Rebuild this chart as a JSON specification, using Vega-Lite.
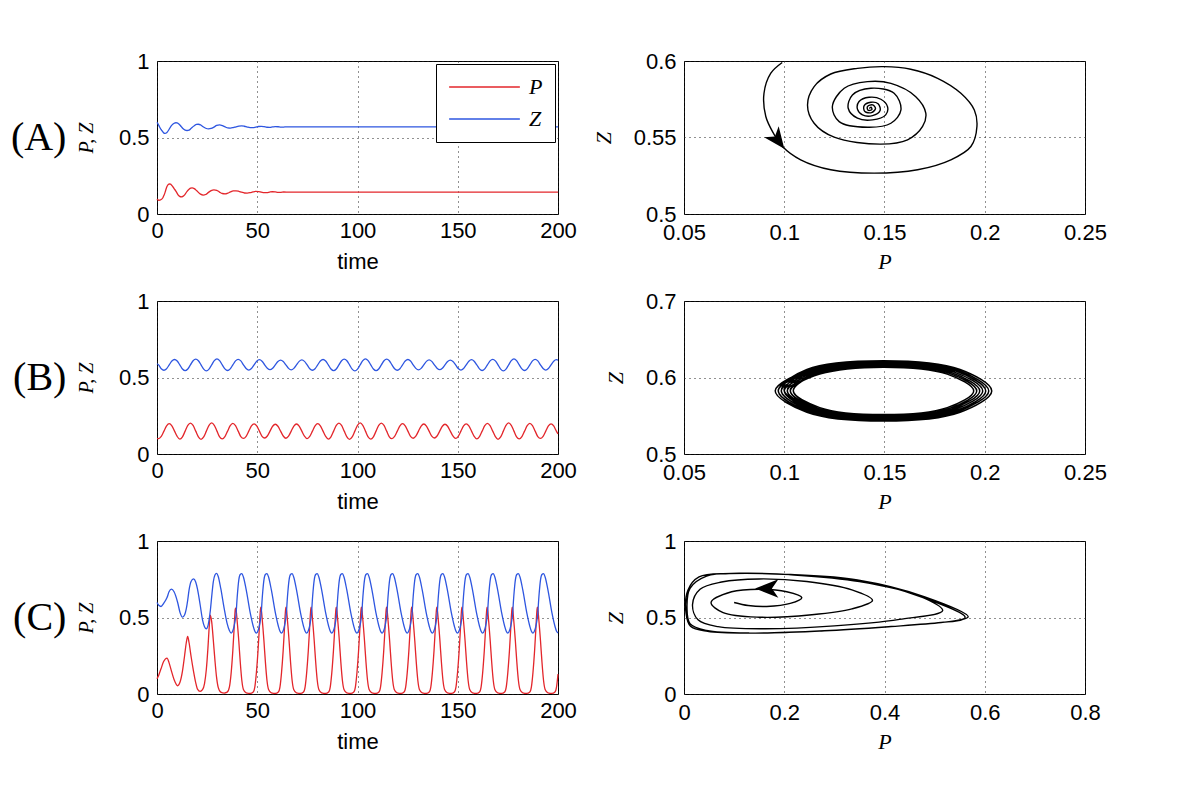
{
"$schema": "https://vega.github.io/schema/vega-lite/v6.json",
"background": "white",
"padding": {"left": 10, "top": 49, "right": 5, "bottom": 5},
"config": {
 "font": "Liberation Sans",
 "view": {"stroke": "black", "strokeWidth": 1},
 "axis": {"labelFont": "Liberation Sans", "labelFontSize": 22, "labelColor": "black", "domain": false, "ticks": false, "grid": true, "gridColor": "#222", "gridDash": [1, 4], "gridWidth": 1, "labelPadding": 8, "titleFont": "Liberation Sans", "titleFontSize": 22, "titleFontWeight": "normal", "titleColor": "black", "titlePadding": 12, "labelFlush": false, "labelOverlap": false},
 "axisX": {"labelPadding": 6, "titlePadding": 10}
},
"datasets": {
 "arrowA": [{"P": 0.0968, "Z": 0.5482}],
 "arrowC": [{"P": 0.165, "Z": 0.6895}],
 "A": [
  {"t":0,"P":0.099,"Z":0.599},{"t":0.35,"P":0.0933,"Z":0.592},{"t":0.9,"P":0.0899,"Z":0.5789},{"t":1.5,"P":0.0908,"Z":0.5637},{"t":2.0,"P":0.0946,"Z":0.5528},{"t":2.5,"P":0.0991,"Z":0.5441},{"t":3.0,"P":0.1082,"Z":0.5354},{"t":3.5,"P":0.1232,"Z":0.5289},{"t":4.1,"P":0.1448,"Z":0.5267},{"t":4.6,"P":0.1665,"Z":0.5289},{"t":5.1,"P":0.1831,"Z":0.5354},{"t":5.6,"P":0.1931,"Z":0.5441},{"t":6.2,"P":0.1961,"Z":0.5572},{"t":6.7,"P":0.1948,"Z":0.568},{"t":7.3,"P":0.1881,"Z":0.5789},{"t":8.0,"P":0.1765,"Z":0.5887},{"t":8.7,"P":0.1631,"Z":0.5946},{"t":9.4,"P":0.1498,"Z":0.5963},{"t":10.0,"P":0.1365,"Z":0.5952},{"t":10.6,"P":0.1232,"Z":0.5915},{"t":11.3,"P":0.1149,"Z":0.5833},{"t":12.1,"P":0.1116,"Z":0.5713},{"t":12.9,"P":0.1149,"Z":0.5593},{"t":13.8,"P":0.1249,"Z":0.5502},{"t":15.0,"P":0.1482,"Z":0.5457},{"t":16.0,"P":0.1615,"Z":0.5485},{"t":16.8,"P":0.169,"Z":0.5572},{"t":17.5,"P":0.1706,"Z":0.5659},{"t":18.6,"P":0.1656,"Z":0.5767},{"t":19.7,"P":0.1532,"Z":0.5854},{"t":20.6,"P":0.1415,"Z":0.5865},{"t":21.7,"P":0.1299,"Z":0.5822},{"t":23.0,"P":0.124,"Z":0.5702},{"t":24.3,"P":0.1274,"Z":0.5604},{"t":25.7,"P":0.1415,"Z":0.5567},{"t":27.0,"P":0.1532,"Z":0.5593},{"t":28.4,"P":0.1582,"Z":0.568},{"t":29.8,"P":0.1548,"Z":0.5789},{"t":31.2,"P":0.1432,"Z":0.5822},{"t":32.6,"P":0.134,"Z":0.5778},{"t":34.0,"P":0.1319,"Z":0.5691},{"t":35.3,"P":0.1365,"Z":0.5626},{"t":36.6,"P":0.144,"Z":0.5615},{"t":38.0,"P":0.1506,"Z":0.5648},{"t":39.4,"P":0.1515,"Z":0.5702},{"t":40.8,"P":0.1482,"Z":0.575},{"t":42.2,"P":0.1423,"Z":0.5763},{"t":43.6,"P":0.1373,"Z":0.5735},{"t":45.0,"P":0.1365,"Z":0.5685},{"t":46.4,"P":0.139,"Z":0.5648},{"t":47.8,"P":0.144,"Z":0.5643},{"t":49.2,"P":0.1478,"Z":0.5676},{"t":50.6,"P":0.1468,"Z":0.572},{"t":52.0,"P":0.1432,"Z":0.573},{"t":53.4,"P":0.1398,"Z":0.5707},{"t":54.8,"P":0.1402,"Z":0.567},{"t":56.2,"P":0.1435,"Z":0.5663},{"t":57.6,"P":0.1455,"Z":0.5689},{"t":59.0,"P":0.1441,"Z":0.5713},{"t":60.4,"P":0.1415,"Z":0.5702},{"t":61.8,"P":0.1418,"Z":0.5678},{"t":63.2,"P":0.1437,"Z":0.5683},{"t":64.6,"P":0.1433,"Z":0.5698},{"t":66.0,"P":0.1425,"Z":0.5691},{"t":200,"P":0.1424,"Z":0.569}
 ],
 "B": [
  {"t":0,"P":0.101,"Z":0.59},
  {"t":0.81,"P":0.1,"Z":0.5825},{"t":2.13,"P":0.1145,"Z":0.5576},{"t":3.46,"P":0.1495,"Z":0.5473},{"t":4.78,"P":0.1845,"Z":0.5576},{"t":6.1,"P":0.199,"Z":0.5825},{"t":7.42,"P":0.1845,"Z":0.6074},{"t":8.75,"P":0.1495,"Z":0.6177},{"t":10.07,"P":0.1145,"Z":0.6074},
  {"t":11.39,"P":0.097,"Z":0.5825},{"t":12.71,"P":0.1124,"Z":0.5556},{"t":14.04,"P":0.1495,"Z":0.5445},{"t":15.36,"P":0.1866,"Z":0.5556},{"t":16.68,"P":0.202,"Z":0.5825},{"t":18.0,"P":0.1866,"Z":0.6094},{"t":19.33,"P":0.1495,"Z":0.6205},{"t":20.65,"P":0.1124,"Z":0.6094},
  {"t":21.97,"P":0.0955,"Z":0.5825},{"t":23.29,"P":0.1113,"Z":0.5546},{"t":24.62,"P":0.1495,"Z":0.5431},{"t":25.94,"P":0.1877,"Z":0.5546},{"t":27.26,"P":0.2035,"Z":0.5825},{"t":28.58,"P":0.1877,"Z":0.6104},{"t":29.91,"P":0.1495,"Z":0.6219},{"t":31.23,"P":0.1113,"Z":0.6104},
  {"t":32.55,"P":0.0985,"Z":0.5825},{"t":33.87,"P":0.1134,"Z":0.5566},{"t":35.2,"P":0.1495,"Z":0.5459},{"t":36.52,"P":0.1856,"Z":0.5566},{"t":37.84,"P":0.2005,"Z":0.5825},{"t":39.16,"P":0.1856,"Z":0.6084},{"t":40.49,"P":0.1495,"Z":0.6191},{"t":41.81,"P":0.1134,"Z":0.6084},
  {"t":43.13,"P":0.1015,"Z":0.5825},{"t":44.45,"P":0.1156,"Z":0.5586},{"t":45.78,"P":0.1495,"Z":0.5487},{"t":47.1,"P":0.1834,"Z":0.5586},{"t":48.42,"P":0.1975,"Z":0.5825},{"t":49.74,"P":0.1834,"Z":0.6064},{"t":51.07,"P":0.1495,"Z":0.6163},{"t":52.39,"P":0.1156,"Z":0.6064},
  {"t":53.71,"P":0.1045,"Z":0.5825},{"t":55.03,"P":0.1177,"Z":0.5606},{"t":56.36,"P":0.1495,"Z":0.5515},{"t":57.68,"P":0.1813,"Z":0.5606},{"t":59.0,"P":0.1945,"Z":0.5825},{"t":60.32,"P":0.1813,"Z":0.6044},{"t":61.65,"P":0.1495,"Z":0.6135},{"t":62.97,"P":0.1177,"Z":0.6044},
  {"t":64.29,"P":0.103,"Z":0.5825},{"t":65.61,"P":0.1166,"Z":0.5596},{"t":66.94,"P":0.1495,"Z":0.5501},{"t":68.26,"P":0.1824,"Z":0.5596},{"t":69.58,"P":0.196,"Z":0.5825},{"t":70.9,"P":0.1824,"Z":0.6054},{"t":72.23,"P":0.1495,"Z":0.6149},{"t":73.55,"P":0.1166,"Z":0.6054},
  {"t":74.87,"P":0.1,"Z":0.5825},{"t":76.19,"P":0.1145,"Z":0.5576},{"t":77.52,"P":0.1495,"Z":0.5473},{"t":78.84,"P":0.1845,"Z":0.5576},{"t":80.16,"P":0.199,"Z":0.5825},{"t":81.48,"P":0.1845,"Z":0.6074},{"t":82.81,"P":0.1495,"Z":0.6177},{"t":84.13,"P":0.1145,"Z":0.6074},
  {"t":85.45,"P":0.097,"Z":0.5825},{"t":86.77,"P":0.1124,"Z":0.5556},{"t":88.1,"P":0.1495,"Z":0.5445},{"t":89.42,"P":0.1866,"Z":0.5556},{"t":90.74,"P":0.202,"Z":0.5825},{"t":92.06,"P":0.1866,"Z":0.6094},{"t":93.39,"P":0.1495,"Z":0.6205},{"t":94.71,"P":0.1124,"Z":0.6094},
  {"t":96.03,"P":0.0955,"Z":0.5825},{"t":97.35,"P":0.1113,"Z":0.5546},{"t":98.68,"P":0.1495,"Z":0.5431},{"t":100.0,"P":0.1877,"Z":0.5546},{"t":101.32,"P":0.2035,"Z":0.5825},{"t":102.64,"P":0.1877,"Z":0.6104},{"t":103.97,"P":0.1495,"Z":0.6219},{"t":105.29,"P":0.1113,"Z":0.6104},
  {"t":106.61,"P":0.097,"Z":0.5825},{"t":107.93,"P":0.1124,"Z":0.5556},{"t":109.26,"P":0.1495,"Z":0.5445},{"t":110.58,"P":0.1866,"Z":0.5556},{"t":111.9,"P":0.202,"Z":0.5825},{"t":113.22,"P":0.1866,"Z":0.6094},{"t":114.55,"P":0.1495,"Z":0.6205},{"t":115.87,"P":0.1124,"Z":0.6094},
  {"t":117.19,"P":0.1,"Z":0.5825},{"t":118.51,"P":0.1145,"Z":0.5576},{"t":119.84,"P":0.1495,"Z":0.5473},{"t":121.16,"P":0.1845,"Z":0.5576},{"t":122.48,"P":0.199,"Z":0.5825},{"t":123.8,"P":0.1845,"Z":0.6074},{"t":125.13,"P":0.1495,"Z":0.6177},{"t":126.45,"P":0.1145,"Z":0.6074},
  {"t":127.77,"P":0.103,"Z":0.5825},{"t":129.09,"P":0.1166,"Z":0.5596},{"t":130.42,"P":0.1495,"Z":0.5501},{"t":131.74,"P":0.1824,"Z":0.5596},{"t":133.06,"P":0.196,"Z":0.5825},{"t":134.38,"P":0.1824,"Z":0.6054},{"t":135.71,"P":0.1495,"Z":0.6149},{"t":137.03,"P":0.1166,"Z":0.6054},
  {"t":138.35,"P":0.1045,"Z":0.5825},{"t":139.67,"P":0.1177,"Z":0.5606},{"t":141.0,"P":0.1495,"Z":0.5515},{"t":142.32,"P":0.1813,"Z":0.5606},{"t":143.64,"P":0.1945,"Z":0.5825},{"t":144.96,"P":0.1813,"Z":0.6044},{"t":146.29,"P":0.1495,"Z":0.6135},{"t":147.61,"P":0.1177,"Z":0.6044},
  {"t":148.93,"P":0.1015,"Z":0.5825},{"t":150.25,"P":0.1156,"Z":0.5586},{"t":151.58,"P":0.1495,"Z":0.5487},{"t":152.9,"P":0.1834,"Z":0.5586},{"t":154.22,"P":0.1975,"Z":0.5825},{"t":155.54,"P":0.1834,"Z":0.6064},{"t":156.87,"P":0.1495,"Z":0.6163},{"t":158.19,"P":0.1156,"Z":0.6064},
  {"t":159.51,"P":0.0985,"Z":0.5825},{"t":160.83,"P":0.1134,"Z":0.5566},{"t":162.16,"P":0.1495,"Z":0.5459},{"t":163.48,"P":0.1856,"Z":0.5566},{"t":164.8,"P":0.2005,"Z":0.5825},{"t":166.12,"P":0.1856,"Z":0.6084},{"t":167.45,"P":0.1495,"Z":0.6191},{"t":168.77,"P":0.1134,"Z":0.6084},
  {"t":170.09,"P":0.0955,"Z":0.5825},{"t":171.41,"P":0.1113,"Z":0.5546},{"t":172.74,"P":0.1495,"Z":0.5431},{"t":174.06,"P":0.1877,"Z":0.5546},{"t":175.38,"P":0.2035,"Z":0.5825},{"t":176.7,"P":0.1877,"Z":0.6104},{"t":178.03,"P":0.1495,"Z":0.6219},{"t":179.35,"P":0.1113,"Z":0.6104},
  {"t":180.67,"P":0.0985,"Z":0.5825},{"t":181.99,"P":0.1134,"Z":0.5566},{"t":183.32,"P":0.1495,"Z":0.5459},{"t":184.64,"P":0.1856,"Z":0.5566},{"t":185.96,"P":0.2005,"Z":0.5825},{"t":187.28,"P":0.1856,"Z":0.6084},{"t":188.61,"P":0.1495,"Z":0.6191},{"t":189.93,"P":0.1134,"Z":0.6084},
  {"t":191.25,"P":0.1015,"Z":0.5825},{"t":192.57,"P":0.1156,"Z":0.5586},{"t":193.9,"P":0.1495,"Z":0.5487},{"t":195.22,"P":0.1834,"Z":0.5586},{"t":196.54,"P":0.1975,"Z":0.5825},{"t":197.86,"P":0.1834,"Z":0.6064},{"t":199.19,"P":0.1495,"Z":0.6163},{"t":200,"P":0.1317,"Z":0.6139}
 ],
 "C": [
  {"t":0,"P":0.1,"Z":0.598},{"t":1.0,"P":0.128,"Z":0.578},{"t":2.0,"P":0.165,"Z":0.572},{"t":3.3,"P":0.212,"Z":0.592},{"t":5.0,"P":0.235,"Z":0.63},{"t":6.0,"P":0.205,"Z":0.668},{"t":7.2,"P":0.15,"Z":0.685},{"t":8.5,"P":0.095,"Z":0.668},{"t":10.3,"P":0.054,"Z":0.598},{"t":11.5,"P":0.078,"Z":0.532},{"t":12.7,"P":0.15,"Z":0.502},{"t":13.8,"P":0.255,"Z":0.518},{"t":14.6,"P":0.335,"Z":0.556},{"t":15.3,"P":0.376,"Z":0.612},{"t":16.0,"P":0.335,"Z":0.68},{"t":17.0,"P":0.245,"Z":0.735},{"t":18.2,"P":0.15,"Z":0.752},{"t":19.3,"P":0.075,"Z":0.732},{"t":20.2,"P":0.032,"Z":0.685},{"t":21.5,"P":0.017,"Z":0.585},{"t":22.7,"P":0.028,"Z":0.485},{"t":23.7,"P":0.068,"Z":0.44},{"t":24.6,"P":0.16,"Z":0.426},{"t":25.4,"P":0.3,"Z":0.445},{"t":26.0,"P":0.43,"Z":0.488},{"t":26.6,"P":0.516,"Z":0.545},{"t":27.3,"P":0.47,"Z":0.64},{"t":28.1,"P":0.35,"Z":0.735},{"t":28.9,"P":0.22,"Z":0.778},{"t":29.7,"P":0.11,"Z":0.789},{"t":30.5,"P":0.045,"Z":0.77},{"t":31.8,"P":0.012,"Z":0.69},{"t":33.5,"P":0.006,"Z":0.56},{"t":35.0,"P":0.012,"Z":0.46},{"t":36.1,"P":0.045,"Z":0.415},{"t":37.0,"P":0.14,"Z":0.398},{"t":37.8,"P":0.28,"Z":0.413},{"t":38.4,"P":0.413,"Z":0.441},{"t":38.8,"P":0.513,"Z":0.467},{"t":39.05,"P":0.555,"Z":0.487},
  {"t":39.3,"P":0.561,"Z":0.503},{"t":40.0,"P":0.474,"Z":0.634},{"t":40.8,"P":0.346,"Z":0.746},{"t":41.5,"P":0.213,"Z":0.781},{"t":42.3,"P":0.09,"Z":0.787},{"t":43.1,"P":0.03,"Z":0.765},{"t":44.5,"P":0.008,"Z":0.68},{"t":46.5,"P":0.004,"Z":0.53},{"t":48.0,"P":0.013,"Z":0.443},{"t":48.8,"P":0.047,"Z":0.41},{"t":49.57,"P":0.14,"Z":0.398},{"t":50.37,"P":0.28,"Z":0.413},{"t":50.97,"P":0.413,"Z":0.441},{"t":51.37,"P":0.513,"Z":0.467},{"t":51.62,"P":0.555,"Z":0.487},
  {"t":51.84,"P":0.567,"Z":0.505},{"t":52.54,"P":0.479,"Z":0.637},{"t":53.34,"P":0.346,"Z":0.746},{"t":54.04,"P":0.213,"Z":0.781},{"t":54.84,"P":0.09,"Z":0.787},{"t":55.64,"P":0.03,"Z":0.765},{"t":57.04,"P":0.008,"Z":0.68},{"t":59.04,"P":0.004,"Z":0.53},{"t":60.54,"P":0.013,"Z":0.443},{"t":61.34,"P":0.047,"Z":0.41},{"t":62.11,"P":0.14,"Z":0.398},{"t":62.91,"P":0.28,"Z":0.413},{"t":63.51,"P":0.413,"Z":0.441},{"t":63.91,"P":0.513,"Z":0.467},{"t":64.16,"P":0.555,"Z":0.487},
  {"t":64.38,"P":0.567,"Z":0.505},{"t":65.08,"P":0.479,"Z":0.637},{"t":65.88,"P":0.346,"Z":0.746},{"t":66.58,"P":0.213,"Z":0.781},{"t":67.38,"P":0.09,"Z":0.787},{"t":68.18,"P":0.03,"Z":0.765},{"t":69.58,"P":0.008,"Z":0.68},{"t":71.58,"P":0.004,"Z":0.53},{"t":73.08,"P":0.013,"Z":0.443},{"t":73.88,"P":0.047,"Z":0.41},{"t":74.65,"P":0.14,"Z":0.398},{"t":75.45,"P":0.28,"Z":0.413},{"t":76.05,"P":0.413,"Z":0.441},{"t":76.45,"P":0.513,"Z":0.467},{"t":76.7,"P":0.555,"Z":0.487},
  {"t":76.92,"P":0.567,"Z":0.505},{"t":77.62,"P":0.479,"Z":0.637},{"t":78.42,"P":0.346,"Z":0.746},{"t":79.12,"P":0.213,"Z":0.781},{"t":79.92,"P":0.09,"Z":0.787},{"t":80.72,"P":0.03,"Z":0.765},{"t":82.12,"P":0.008,"Z":0.68},{"t":84.12,"P":0.004,"Z":0.53},{"t":85.62,"P":0.013,"Z":0.443},{"t":86.42,"P":0.047,"Z":0.41},{"t":87.19,"P":0.14,"Z":0.398},{"t":87.99,"P":0.28,"Z":0.413},{"t":88.59,"P":0.413,"Z":0.441},{"t":88.99,"P":0.513,"Z":0.467},{"t":89.24,"P":0.555,"Z":0.487},
  {"t":89.46,"P":0.567,"Z":0.505},{"t":90.16,"P":0.479,"Z":0.637},{"t":90.96,"P":0.346,"Z":0.746},{"t":91.66,"P":0.213,"Z":0.781},{"t":92.46,"P":0.09,"Z":0.787},{"t":93.26,"P":0.03,"Z":0.765},{"t":94.66,"P":0.008,"Z":0.68},{"t":96.66,"P":0.004,"Z":0.53},{"t":98.16,"P":0.013,"Z":0.443},{"t":98.96,"P":0.047,"Z":0.41},{"t":99.73,"P":0.14,"Z":0.398},{"t":100.53,"P":0.28,"Z":0.413},{"t":101.13,"P":0.413,"Z":0.441},{"t":101.53,"P":0.513,"Z":0.467},{"t":101.78,"P":0.555,"Z":0.487},
  {"t":102.0,"P":0.567,"Z":0.505},{"t":102.7,"P":0.479,"Z":0.637},{"t":103.5,"P":0.346,"Z":0.746},{"t":104.2,"P":0.213,"Z":0.781},{"t":105.0,"P":0.09,"Z":0.787},{"t":105.8,"P":0.03,"Z":0.765},{"t":107.2,"P":0.008,"Z":0.68},{"t":109.2,"P":0.004,"Z":0.53},{"t":110.7,"P":0.013,"Z":0.443},{"t":111.5,"P":0.047,"Z":0.41},{"t":112.27,"P":0.14,"Z":0.398},{"t":113.07,"P":0.28,"Z":0.413},{"t":113.67,"P":0.413,"Z":0.441},{"t":114.07,"P":0.513,"Z":0.467},{"t":114.32,"P":0.555,"Z":0.487},
  {"t":114.54,"P":0.567,"Z":0.505},{"t":115.24,"P":0.479,"Z":0.637},{"t":116.04,"P":0.346,"Z":0.746},{"t":116.74,"P":0.213,"Z":0.781},{"t":117.54,"P":0.09,"Z":0.787},{"t":118.34,"P":0.03,"Z":0.765},{"t":119.74,"P":0.008,"Z":0.68},{"t":121.74,"P":0.004,"Z":0.53},{"t":123.24,"P":0.013,"Z":0.443},{"t":124.04,"P":0.047,"Z":0.41},{"t":124.81,"P":0.14,"Z":0.398},{"t":125.61,"P":0.28,"Z":0.413},{"t":126.21,"P":0.413,"Z":0.441},{"t":126.61,"P":0.513,"Z":0.467},{"t":126.86,"P":0.555,"Z":0.487},
  {"t":127.08,"P":0.567,"Z":0.505},{"t":127.78,"P":0.479,"Z":0.637},{"t":128.58,"P":0.346,"Z":0.746},{"t":129.28,"P":0.213,"Z":0.781},{"t":130.08,"P":0.09,"Z":0.787},{"t":130.88,"P":0.03,"Z":0.765},{"t":132.28,"P":0.008,"Z":0.68},{"t":134.28,"P":0.004,"Z":0.53},{"t":135.78,"P":0.013,"Z":0.443},{"t":136.58,"P":0.047,"Z":0.41},{"t":137.35,"P":0.14,"Z":0.398},{"t":138.15,"P":0.28,"Z":0.413},{"t":138.75,"P":0.413,"Z":0.441},{"t":139.15,"P":0.513,"Z":0.467},{"t":139.4,"P":0.555,"Z":0.487},
  {"t":139.62,"P":0.567,"Z":0.505},{"t":140.32,"P":0.479,"Z":0.637},{"t":141.12,"P":0.346,"Z":0.746},{"t":141.82,"P":0.213,"Z":0.781},{"t":142.62,"P":0.09,"Z":0.787},{"t":143.42,"P":0.03,"Z":0.765},{"t":144.82,"P":0.008,"Z":0.68},{"t":146.82,"P":0.004,"Z":0.53},{"t":148.32,"P":0.013,"Z":0.443},{"t":149.12,"P":0.047,"Z":0.41},{"t":149.89,"P":0.14,"Z":0.398},{"t":150.69,"P":0.28,"Z":0.413},{"t":151.29,"P":0.413,"Z":0.441},{"t":151.69,"P":0.513,"Z":0.467},{"t":151.94,"P":0.555,"Z":0.487},
  {"t":152.16,"P":0.567,"Z":0.505},{"t":152.86,"P":0.479,"Z":0.637},{"t":153.66,"P":0.346,"Z":0.746},{"t":154.36,"P":0.213,"Z":0.781},{"t":155.16,"P":0.09,"Z":0.787},{"t":155.96,"P":0.03,"Z":0.765},{"t":157.36,"P":0.008,"Z":0.68},{"t":159.36,"P":0.004,"Z":0.53},{"t":160.86,"P":0.013,"Z":0.443},{"t":161.66,"P":0.047,"Z":0.41},{"t":162.43,"P":0.14,"Z":0.398},{"t":163.23,"P":0.28,"Z":0.413},{"t":163.83,"P":0.413,"Z":0.441},{"t":164.23,"P":0.513,"Z":0.467},{"t":164.48,"P":0.555,"Z":0.487},
  {"t":164.7,"P":0.567,"Z":0.505},{"t":165.4,"P":0.479,"Z":0.637},{"t":166.2,"P":0.346,"Z":0.746},{"t":166.9,"P":0.213,"Z":0.781},{"t":167.7,"P":0.09,"Z":0.787},{"t":168.5,"P":0.03,"Z":0.765},{"t":169.9,"P":0.008,"Z":0.68},{"t":171.9,"P":0.004,"Z":0.53},{"t":173.4,"P":0.013,"Z":0.443},{"t":174.2,"P":0.047,"Z":0.41},{"t":174.97,"P":0.14,"Z":0.398},{"t":175.77,"P":0.28,"Z":0.413},{"t":176.37,"P":0.413,"Z":0.441},{"t":176.77,"P":0.513,"Z":0.467},{"t":177.02,"P":0.555,"Z":0.487},
  {"t":177.24,"P":0.567,"Z":0.505},{"t":177.94,"P":0.479,"Z":0.637},{"t":178.74,"P":0.346,"Z":0.746},{"t":179.44,"P":0.213,"Z":0.781},{"t":180.24,"P":0.09,"Z":0.787},{"t":181.04,"P":0.03,"Z":0.765},{"t":182.44,"P":0.008,"Z":0.68},{"t":184.44,"P":0.004,"Z":0.53},{"t":185.94,"P":0.013,"Z":0.443},{"t":186.74,"P":0.047,"Z":0.41},{"t":187.51,"P":0.14,"Z":0.398},{"t":188.31,"P":0.28,"Z":0.413},{"t":188.91,"P":0.413,"Z":0.441},{"t":189.31,"P":0.513,"Z":0.467},{"t":189.56,"P":0.555,"Z":0.487},
  {"t":189.78,"P":0.567,"Z":0.505},{"t":190.48,"P":0.479,"Z":0.637},{"t":191.28,"P":0.346,"Z":0.746},{"t":191.98,"P":0.213,"Z":0.781},{"t":192.78,"P":0.09,"Z":0.787},{"t":193.58,"P":0.03,"Z":0.765},{"t":194.98,"P":0.008,"Z":0.68},{"t":196.98,"P":0.004,"Z":0.53},{"t":198.48,"P":0.013,"Z":0.443},{"t":199.28,"P":0.047,"Z":0.41},{"t":200,"P":0.13,"Z":0.399}
 ]
},
"columns": 2,
"spacing": {"row": 87, "column": 126},
"bounds": "flush",
"resolve": {"scale": {"color": "independent"}, "legend": {"color": "independent"}},
"concat": [
 {
  "width": 401, "height": 153,
  "title": {"text": "(A)", "orient": "left", "angle": 0, "align": "left", "baseline": "middle", "font": "Liberation Serif", "fontSize": 40, "fontWeight": "normal", "color": "black", "offset": 10},
  "data": {"name": "A"},
  "transform": [{"fold": ["P", "Z"], "as": ["var", "val"]}],
  "mark": {"type": "line", "interpolate": "monotone", "strokeWidth": 1.3},
  "encoding": {
   "x": {"field": "t", "type": "quantitative", "scale": {"domain": [0, 200], "nice": false}, "axis": {"values": [0, 50, 100, 150, 200], "title": "time"}},
   "y": {"field": "val", "type": "quantitative", "scale": {"domain": [0, 1], "nice": false}, "axis": {"values": [0, 0.5, 1], "format": "~g", "title": "P, Z", "titleFont": "Liberation Serif", "titleFontStyle": "italic", "titleFontSize": 20, "titlePadding": 22}},
   "color": {"field": "var", "type": "nominal", "scale": {"domain": ["P", "Z"], "range": ["#e3262b", "#2e56e0"]},
    "legend": {"orient": "top-right", "offset": 3, "title": null, "strokeColor": "black", "fillColor": "white", "padding": 12, "symbolType": "stroke", "symbolSize": 5000, "symbolStrokeWidth": 1.3, "clipHeight": 22, "labelFont": "Liberation Serif", "labelFontStyle": "italic", "labelFontSize": 22, "labelOffset": 8, "rowPadding": 10, "labelColor": "black", "cornerRadius": 0}}
  }
 },
 {
  "width": 401, "height": 153,
  "layer": [
   {"data": {"name": "A"}, "mark": {"type": "line", "interpolate": "catmull-rom", "color": "black", "strokeWidth": 1.4, "clip": true},
    "encoding": {
     "x": {"field": "P", "type": "quantitative", "scale": {"domain": [0.05, 0.25], "nice": false, "zero": false}, "axis": {"values": [0.05, 0.1, 0.15, 0.2, 0.25], "format": "~g", "title": "P", "titleFont": "Liberation Serif", "titleFontStyle": "italic", "titleFontSize": 22, "labelPadding": 8, "titlePadding": 8}},
     "y": {"field": "Z", "type": "quantitative", "scale": {"domain": [0.5, 0.6], "nice": false, "zero": false}, "axis": {"values": [0.5, 0.55, 0.6], "format": "~g", "title": "Z", "titleFont": "Liberation Serif", "titleFontStyle": "italic", "titleFontSize": 22, "titlePadding": 18}},
     "order": {"field": "t", "type": "quantitative"}
    }},
   {"data": {"name": "arrowA"}, "mark": {"type": "point", "shape": "M0,-1L0.85,1L0,0.45L-0.85,1Z", "filled": true, "color": "black", "opacity": 1, "size": 462, "angle": 143},
    "encoding": {"x": {"field": "P", "type": "quantitative"}, "y": {"field": "Z", "type": "quantitative"}}}
  ]
 },
 {
  "width": 401, "height": 153,
  "title": {"text": "(B)", "orient": "left", "angle": 0, "align": "left", "baseline": "middle", "font": "Liberation Serif", "fontSize": 40, "fontWeight": "normal", "color": "black", "offset": 10},
  "data": {"name": "B"},
  "transform": [{"fold": ["P", "Z"], "as": ["var", "val"]}],
  "mark": {"type": "line", "interpolate": "monotone", "strokeWidth": 1.3},
  "encoding": {
   "x": {"field": "t", "type": "quantitative", "scale": {"domain": [0, 200], "nice": false}, "axis": {"values": [0, 50, 100, 150, 200], "title": "time"}},
   "y": {"field": "val", "type": "quantitative", "scale": {"domain": [0, 1], "nice": false}, "axis": {"values": [0, 0.5, 1], "format": "~g", "title": "P, Z", "titleFont": "Liberation Serif", "titleFontStyle": "italic", "titleFontSize": 20, "titlePadding": 22}},
   "color": {"field": "var", "type": "nominal", "scale": {"domain": ["P", "Z"], "range": ["#e3262b", "#2e56e0"]}, "legend": null}
  }
 },
 {
  "width": 401, "height": 153,
  "data": {"name": "B"},
  "mark": {"type": "line", "interpolate": "catmull-rom", "color": "black", "strokeWidth": 1.5, "clip": true},
  "encoding": {
   "x": {"field": "P", "type": "quantitative", "scale": {"domain": [0.05, 0.25], "nice": false, "zero": false}, "axis": {"values": [0.05, 0.1, 0.15, 0.2, 0.25], "format": "~g", "title": "P", "titleFont": "Liberation Serif", "titleFontStyle": "italic", "titleFontSize": 22, "labelPadding": 8, "titlePadding": 8}},
   "y": {"field": "Z", "type": "quantitative", "scale": {"domain": [0.5, 0.7], "nice": false, "zero": false}, "axis": {"values": [0.5, 0.6, 0.7], "format": "~g", "title": "Z", "titleFont": "Liberation Serif", "titleFontStyle": "italic", "titleFontSize": 22, "titlePadding": 18}},
   "order": {"field": "t", "type": "quantitative"}
  }
 },
 {
  "width": 401, "height": 153,
  "title": {"text": "(C)", "orient": "left", "angle": 0, "align": "left", "baseline": "middle", "font": "Liberation Serif", "fontSize": 40, "fontWeight": "normal", "color": "black", "offset": 10},
  "data": {"name": "C"},
  "transform": [{"fold": ["P", "Z"], "as": ["var", "val"]}],
  "mark": {"type": "line", "interpolate": "monotone", "strokeWidth": 1.3},
  "encoding": {
   "x": {"field": "t", "type": "quantitative", "scale": {"domain": [0, 200], "nice": false}, "axis": {"values": [0, 50, 100, 150, 200], "title": "time"}},
   "y": {"field": "val", "type": "quantitative", "scale": {"domain": [0, 1], "nice": false}, "axis": {"values": [0, 0.5, 1], "format": "~g", "title": "P, Z", "titleFont": "Liberation Serif", "titleFontStyle": "italic", "titleFontSize": 20, "titlePadding": 22}},
   "color": {"field": "var", "type": "nominal", "scale": {"domain": ["P", "Z"], "range": ["#e3262b", "#2e56e0"]}, "legend": null}
  }
 },
 {
  "width": 401, "height": 153,
  "layer": [
   {"data": {"name": "C"}, "mark": {"type": "line", "interpolate": "catmull-rom", "color": "black", "strokeWidth": 1.4, "clip": true},
    "encoding": {
     "x": {"field": "P", "type": "quantitative", "scale": {"domain": [0, 0.8], "nice": false, "zero": false}, "axis": {"values": [0, 0.2, 0.4, 0.6, 0.8], "format": "~g", "title": "P", "titleFont": "Liberation Serif", "titleFontStyle": "italic", "titleFontSize": 22, "labelPadding": 8, "titlePadding": 8}},
     "y": {"field": "Z", "type": "quantitative", "scale": {"domain": [0, 1], "nice": false, "zero": false}, "axis": {"values": [0, 0.5, 1], "format": "~g", "title": "Z", "titleFont": "Liberation Serif", "titleFontStyle": "italic", "titleFontSize": 22, "titlePadding": 18}},
     "order": {"field": "t", "type": "quantitative"}
    }},
   {"data": {"name": "arrowC"}, "mark": {"type": "point", "shape": "M0,-1L0.8,1L0,0.45L-0.8,1Z", "filled": true, "color": "black", "opacity": 1, "size": 543, "angle": 270},
    "encoding": {"x": {"field": "P", "type": "quantitative"}, "y": {"field": "Z", "type": "quantitative"}}}
  ]
 }
]
}
